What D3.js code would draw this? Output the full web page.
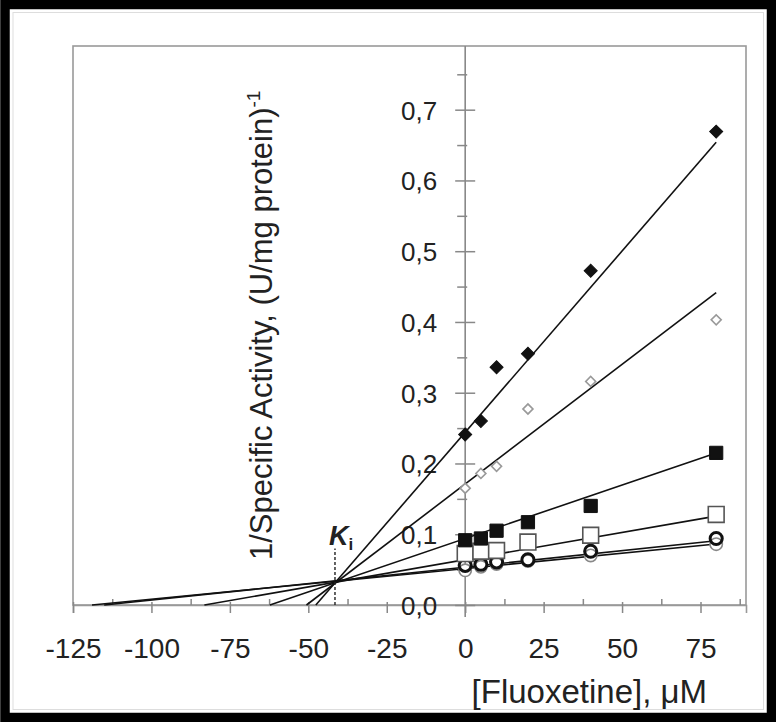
<!DOCTYPE html>
<html>
<head>
<meta charset="utf-8">
<script src="https://cdn.jsdelivr.net/npm/d3@7"></script>
<style>
  html, body { margin: 0; padding: 0; background: #fff; }
  svg { display: block; }
  text { font-family: "Liberation Sans", Arial, sans-serif; fill: #222; }
</style>
</head>
<body>
<svg id="chart" width="776" height="722"></svg>
<script>
// Inhibitor concentrations, µM
const conc = [0, 5, 10, 20, 40, 80];

// 1/specific activity at each fixed substrate level
const filledDiamond = [0.241, 0.260, 0.336, 0.355, 0.4725, 0.669];
const openDiamond   = [0.165, 0.186, 0.196, 0.277, 0.316, 0.403];
const filledSquare  = [0.0915, 0.094, 0.105, 0.117, 0.140, 0.215];
const openSquare    = [0.0727, 0.076, 0.077, 0.089, 0.0986, 0.128];
const blackCircle   = [0.056, 0.0575, 0.061, 0.064, 0.076, 0.094];
const grayCircle    = [0.049, 0.054, 0.058, 0.062, 0.070, 0.086];

// Dixon-plot regression lines (intercept at [I]=0, slope per µM), same order
const fitIntercept = [0.244, 0.171, 0.094, 0.064, 0.0535, 0.0515];
const fitSlope     = [0.005125, 0.00338, 0.00151, 0.00077, 0.000465, 0.000433];
const fitEnd = 80;

// Inhibition constant (common intersection)
const kiValue = -41.5;

// Axis ticks
const xTicks = [-125, -100, -75, -50, -25, 0, 25, 50, 75];
const xMinorTicks = [-112.5, -87.5, -62.5, -37.5, -12.5, 12.5, 37.5, 62.5, 87.5];
const yTicks = [0, 0.1, 0.2, 0.3, 0.4, 0.5, 0.6, 0.7];
const yTickLabels = ["0,0", "0,1", "0,2", "0,3", "0,4", "0,5", "0,6", "0,7"];
const yMinorTicks = [0.05, 0.15, 0.25, 0.35, 0.45, 0.55, 0.65, 0.75];

const svg = d3.select("#chart");
const W = 776, H = 722;

const x = d3.scaleLinear().domain([-125, 89.5]).range([73, 746]);
const y = d3.scaleLinear().domain([0, 0.79]).range([605, 46]);

// outer picture frame
svg.append("rect").attr("x", 0).attr("y", 0).attr("width", W).attr("height", H).attr("fill", "#fff");
svg.append("rect").attr("x", 5).attr("y", 4.5).attr("width", W - 9.5).attr("height", H - 9)
  .attr("fill", "none").attr("stroke", "#000").attr("stroke-width", 9.5);
svg.append("rect").attr("x", 13).attr("y", 12.5).attr("width", W - 25.5).attr("height", H - 25)
  .attr("fill", "none").attr("stroke", "#ddd").attr("stroke-width", 1);

// plot frame
const [x0, x1] = x.range();
const [yb, yt] = y.range();
svg.append("rect").attr("x", x0).attr("y", yt).attr("width", x1 - x0).attr("height", yb - yt)
  .attr("fill", "none").attr("stroke", "#999").attr("stroke-width", 1.6);

// x axis along y = 0
const xAxis = d3.axisBottom(x).tickValues(xTicks).tickSize(8).tickPadding(0)
  .tickFormat(d => d3.format("d")(d).replace("−", "-"));
const gx = svg.append("g").attr("transform", `translate(0,${y(0)})`).call(xAxis);
gx.select(".domain").attr("stroke", "#999").attr("stroke-width", 1.6);
gx.selectAll(".tick line").attr("y1", -3).attr("stroke", "#888").attr("stroke-width", 1.5);
gx.selectAll(".tick text").attr("y", 53).attr("dy", null)
  .style("font-size", "28px").attr("fill", "#222");
const gxm = svg.append("g").attr("transform", `translate(0,${y(0)})`)
  .call(d3.axisBottom(x).tickValues(xMinorTicks).tickSize(-6).tickFormat(""));
gxm.select(".domain").remove();
gxm.selectAll(".tick line").attr("stroke", "#888").attr("stroke-width", 1.5);

// y axis at x = 0
const yAxis = d3.axisLeft(y).tickValues(yTicks).tickSize(10).tickPadding(0)
  .tickFormat((d, i) => yTickLabels[i]);
const gy = svg.append("g").attr("transform", `translate(${x(0)},0)`).call(yAxis);
gy.select(".domain").remove();
gy.selectAll(".tick line").attr("x2", 10).attr("x1", -10).attr("stroke", "#888").attr("stroke-width", 1.5);
gy.selectAll(".tick text").attr("x", -28).attr("dy", "0.36em")
  .style("font-size", "26px").attr("fill", "#222");
const gym = svg.append("g").attr("transform", `translate(${x(0)},0)`)
  .call(d3.axisLeft(y).tickValues(yMinorTicks).tickSize(8).tickFormat(""));
gym.select(".domain").remove();
gym.selectAll(".tick line").attr("x1", 2).attr("stroke", "#888").attr("stroke-width", 1.5);
svg.append("line").attr("x1", x(0)).attr("x2", x(0)).attr("y1", yt).attr("y2", y(0) + 12)
  .attr("stroke", "#888").attr("stroke-width", 1.6);

// regression lines, from the x intercept to the last concentration
const fits = fitIntercept.map((b, i) => ({ b, m: fitSlope[i] }));
const line = d3.line().x(d => x(d[0])).y(d => y(d[1]));
svg.append("g").selectAll("path").data(fits).join("path")
  .attr("d", f => line([[-f.b / f.m, 0], [fitEnd, f.b + f.m * fitEnd]]))
  .attr("fill", "none").attr("stroke", "#111").attr("stroke-width", 1.6);

// Ki marker
svg.append("line").attr("x1", x(kiValue)).attr("x2", x(kiValue))
  .attr("y1", y(0)).attr("y2", y(0.08))
  .attr("stroke", "#222").attr("stroke-width", 1.4).attr("stroke-dasharray", "3,2");
const kiText = svg.append("text").attr("x", x(kiValue) - 6).attr("y", 545)
  .style("font-size", "27px").style("font-weight", "bold").style("font-style", "italic")
  .attr("fill", "#111");
kiText.append("tspan").text("K");
kiText.append("tspan").attr("dy", 5).style("font-size", "17px").style("font-style", "normal").text("i");

// markers
const pts = arr => arr.map((v, i) => [conc[i], v]);

function drawSeries(values, type, size, fill, stroke, sw, angle) {
  svg.append("g").selectAll("path").data(pts(values)).join("path")
    .attr("transform", d => `translate(${x(d[0])},${y(d[1])}) rotate(${angle || 0})`)
    .attr("d", d3.symbol().type(type).size(size)())
    .attr("fill", fill).attr("stroke", stroke).attr("stroke-width", sw);
}
drawSeries(grayCircle, d3.symbolCircle, 120, "#fff", "#888", 1.6);
drawSeries(blackCircle, d3.symbolCircle, 115, "none", "#111", 3);
drawSeries(openSquare, d3.symbolSquare, 250, "#fff", "#555", 1.6);
drawSeries(filledSquare, d3.symbolSquare, 175, "#111", "#111", 1);
drawSeries(openDiamond, d3.symbolSquare, 50, "#fff", "#999", 1.6, 45);
drawSeries(filledDiamond, d3.symbolSquare, 85, "#111", "#111", 1, 45);

// axis titles
svg.append("text").attr("x", 707).attr("y", 703).attr("text-anchor", "end")
  .style("font-size", "33px").attr("fill", "#222").text("[Fluoxetine], \u03BCM");

const yl = svg.append("text").attr("transform", "translate(272,560) rotate(-90)")
  .style("font-size", "31px").attr("fill", "#222");
yl.append("tspan").text("1/Specific Activity, (U/mg protein)");
yl.append("tspan").attr("dy", -12).style("font-size", "19px").text("-1");
</script>
</body>
</html>
